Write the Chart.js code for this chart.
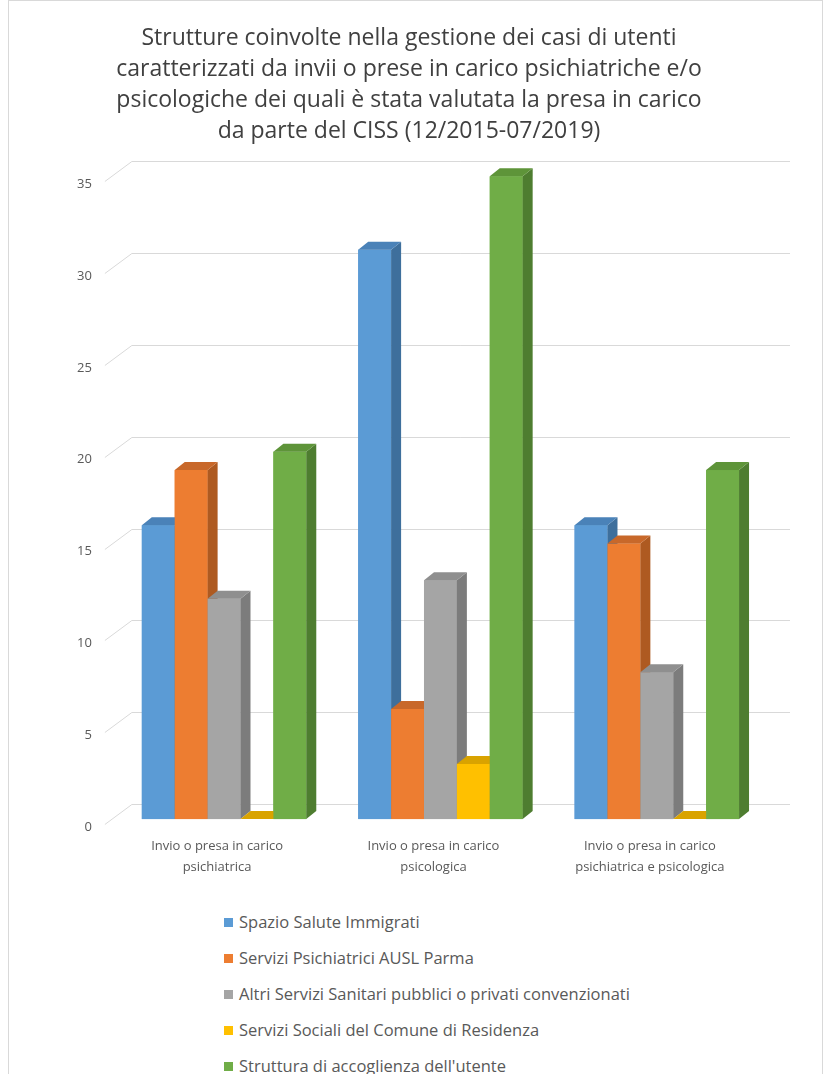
<!DOCTYPE html>
<html>
<head>
<meta charset="utf-8">
<script src="https://cdn.jsdelivr.net/npm/chart.js@4/dist/chart.umd.min.js"></script>
<style>
  body { margin: 0; background: #fff; font-family: "Open Sans", sans-serif; }
  #frame { position: absolute; left: 8px; top: 0; width: 813px; height: 1073px; border: 1px solid #d9d9d9; }
  #wrap { position: absolute; left: 0; top: 0; width: 830px; height: 900px; }
  #legend { position: absolute; left: 224px; top: 911px; color: #595959; font-size: 16.5px; }
  #legend div { height: 36px; line-height: 22px; white-space: nowrap; }
  #legend span.box { display: inline-block; width: 9px; height: 9px; margin-right: 6px; vertical-align: 1px; }
</style>
</head>
<body>
<div id="frame"></div>
<div id="wrap"><canvas id="chart"></canvas></div>
<div id="legend"></div>
<script>
// dati
const titolo = [
  "Strutture coinvolte nella gestione dei casi di utenti",
  "caratterizzati da invii o prese in carico psichiatriche e/o",
  "psicologiche dei quali è stata valutata la presa in carico",
  "da parte del CISS (12/2015-07/2019)"
];
const categorie = [
  ["Invio o presa in carico", "psichiatrica"],
  ["Invio o presa in carico", "psicologica"],
  ["Invio o presa in carico", "psichiatrica e psicologica"]
];
const serie = [
  "Spazio Salute Immigrati",
  "Servizi Psichiatrici AUSL Parma",
  "Altri Servizi Sanitari pubblici o privati convenzionati",
  "Servizi Sociali del Comune di Residenza",
  "Struttura di accoglienza dell'utente"
];
const spazioSalute = [16, 31, 16];
const serviziPsichiatrici = [19, 6, 15];
const altriServizi = [12, 13, 8];
const serviziSociali = [0, 3, 0];
const strutturaAccoglienza = [20, 35, 19];
const tickValori = [0, 5, 10, 15, 20, 25, 30, 35];

const colori = ["#5B9BD5", "#ED7D31", "#A5A5A5", "#FFC000", "#70AD47"];
const coloriLato = ["#3E6F9C", "#AE5A21", "#7C7C7C", "#BC8C00", "#4E7D30"];
const coloriTop = ["#4A82B8", "#C8682A", "#8F8F8F", "#D9A300", "#5E9439"];

const valori = [spazioSalute, serviziPsichiatrici, altriServizi, serviziSociali, strutturaAccoglienza];

// effetto 3D: profondità delle barre e della parete di fondo
const DX = 10, DY = 8;
const WALL_DX = 16, WALL_DY = 15;

const griglia3D = {
  id: "griglia3D",
  beforeDatasetsDraw(chart) {
    const { ctx, chartArea, scales: { y } } = chart;
    ctx.save();
    ctx.strokeStyle = "#d9d9d9";
    ctx.lineWidth = 1;
    tickValori.forEach(v => {
      const py = Math.round(y.getPixelForValue(v)) + 0.5;
      ctx.beginPath();
      ctx.moveTo(chartArea.left - 11, py + 5);
      ctx.lineTo(chartArea.left + WALL_DX, py - WALL_DY);
      ctx.lineTo(chartArea.right + 25, py - WALL_DY);
      ctx.stroke();
    });
    ctx.restore();
  }
};

const barre3D = {
  id: "barre3D",
  afterDatasetsDraw(chart) {
    const ctx = chart.ctx;
    const metas = chart.data.datasets.map((d, i) => chart.getDatasetMeta(i));
    ctx.save();
    for (let c = 0; c < categorie.length; c++) {
      metas.forEach((meta, i) => {
        const el = meta.data[c];
        if (!el) return;
        const { x, y, base, width } = el.getProps(["x", "y", "base", "width"], true);
        const l = x - width / 2, r = x + width / 2;
        // fronte
        ctx.fillStyle = colori[i];
        ctx.fillRect(l, y, width, base - y);
        // lato
        ctx.fillStyle = coloriLato[i];
        ctx.beginPath();
        ctx.moveTo(r, y);
        ctx.lineTo(r + DX, y - DY);
        ctx.lineTo(r + DX, base - DY);
        ctx.lineTo(r, base);
        ctx.closePath();
        ctx.fill();
        // sopra
        ctx.fillStyle = coloriTop[i];
        ctx.beginPath();
        ctx.moveTo(l, y);
        ctx.lineTo(l + DX, y - DY);
        ctx.lineTo(r + DX, y - DY);
        ctx.lineTo(r, y);
        ctx.closePath();
        ctx.fill();
      });
    }
    ctx.restore();
  }
};

const ctx = document.getElementById("chart").getContext("2d");
const chart = new Chart(ctx, {
  type: "bar",
  data: {
    labels: categorie,
    datasets: serie.map((s, i) => ({
      label: s,
      data: valori[i],
      backgroundColor: colori[i],
      borderWidth: 0,
      categoryPercentage: 0.76,
      barPercentage: 1.0
    }))
  },
  options: {
    responsive: true,
    maintainAspectRatio: false,
    animation: false,
    layout: { padding: { left: 53, right: 65, top: 0, bottom: 6 } },
    plugins: {
      legend: { display: false },
      tooltip: { enabled: false },
      title: {
        display: true,
        text: titolo,
        color: "#404040",
        font: { family: "'Open Sans', sans-serif", size: 23, weight: "normal", lineHeight: 1.35 },
        padding: { top: 23, bottom: 29 }
      }
    },
    scales: {
      x: {
        grid: { display: false, drawTicks: false },
        border: { display: false },
        ticks: {
          color: "#595959",
          font: { family: "'Open Sans', sans-serif", size: 13, lineHeight: 1.65 },
          padding: 16,
          labelOffset: -7,
          maxRotation: 0,
          autoSkip: false
        }
      },
      y: {
        min: 0,
        max: 35,
        grid: { display: false, drawTicks: false },
        border: { display: false },
        ticks: {
          stepSize: 5,
          color: "#595959",
          font: { family: "'Open Sans', sans-serif", size: 13 },
          padding: 24,
          labelOffset: 8
        }
      }
    }
  },
  plugins: [griglia3D, barre3D]
});

// legenda verticale
const legenda = document.getElementById("legend");
serie.forEach((s, i) => {
  const riga = document.createElement("div");
  riga.innerHTML = `<span class="box" style="background:${colori[i]}"></span>${s}`;
  legenda.appendChild(riga);
});
</script>
</body>
</html>
